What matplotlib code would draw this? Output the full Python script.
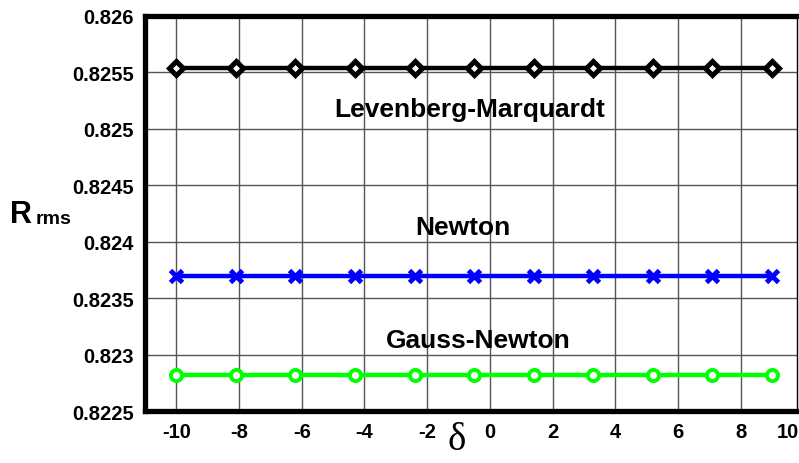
import matplotlib
matplotlib.use("Agg")
import matplotlib.pyplot as plt

# data
delta = [-10.0, -8.1, -6.2, -4.3, -2.4, -0.5, 1.4, 3.3, 5.2, 7.1, 9.0]
r_lm = [0.82554] * len(delta)
r_newton = [0.82370] * len(delta)
r_gn = [0.82282] * len(delta)

x_ticks = [-10, -8, -6, -4, -2, 0, 2, 4, 6, 8]
y_ticks = [0.8225, 0.823, 0.8235, 0.824, 0.8245, 0.825, 0.8255, 0.826]
y_ticklabels = ["0.8225", "0.823", "0.8235", "0.824", "0.8245", "0.825", "0.8255", "0.826"]
x_max = 9.8

plt.rcParams["font.family"] = ["Liberation Sans", "DejaVu Sans"]
plt.rcParams["font.weight"] = "bold"

fig = plt.figure(figsize=(7.99, 4.64), dpi=100)
ax = fig.add_axes([0.1815, 0.112, 0.816, 0.8514])

ax.plot(delta, r_lm, color="black", lw=3.2, marker="D", ms=7,
        mfc="white", mec="black", mew=3.6, zorder=3)
ax.plot(delta, r_newton, color="#0000ff", lw=3.2, marker="x", ms=8,
        mew=3.5, zorder=3)
ax.plot(delta, r_gn, color="#00ff00", lw=3.2, marker="o", ms=8,
        mfc="white", mec="#00ff00", mew=2.8, zorder=3)

ax.set_xlim(-11, x_max)
ax.set_ylim(0.8225, 0.826)

# the right-hand "10" label sits just inside the frame, as in the reference
ax.set_xticks(x_ticks + [9.5])
ax.set_xticklabels([str(t) for t in x_ticks] + ["10"])
ax.set_yticks(y_ticks)
ax.set_yticklabels(y_ticklabels)
ax.tick_params(length=0, labelsize=14.5, pad=8)
for lab in ax.get_xticklabels() + ax.get_yticklabels():
    lab.set_fontweight("bold")

ax.grid(True, color="#555555", lw=1.0)
ax.get_xgridlines()[-1].set_visible(False)
ax.set_axisbelow(True)

for side in ("top", "left", "bottom"):
    ax.spines[side].set_linewidth(3.8)
ax.spines["right"].set_linewidth(1.0)

ax.text(-0.64, 0.825177, "Levenberg-Marquardt", fontsize=19, fontweight="bold",
        ha="center", va="center")
ax.text(-0.86, 0.824132, "Newton", fontsize=19, fontweight="bold",
        ha="center", va="center")
ax.text(-0.38, 0.823132, "Gauss-Newton", fontsize=19, fontweight="bold",
        ha="center", va="center")

fig.text(0.013, 0.537, "R", fontsize=22, fontweight="bold", va="center")
fig.text(0.045, 0.528, "rms", fontsize=14, fontweight="bold", va="center")
fig.text(0.571, 0.05, "δ", fontsize=28, family=["Liberation Serif", "DejaVu Serif"],
         ha="center", va="center", fontweight="normal")

fig.savefig("out.png", dpi=100)
